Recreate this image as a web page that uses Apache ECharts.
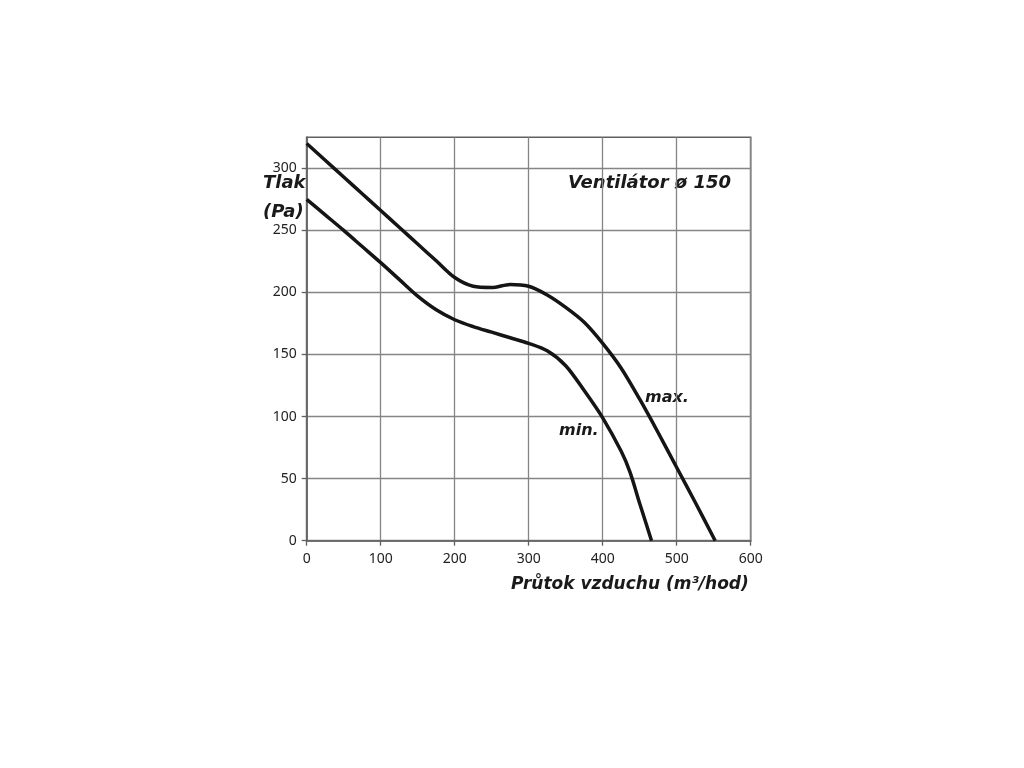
<!DOCTYPE html>
<html>
<head>
<meta charset="utf-8">
<script src="https://cdn.jsdelivr.net/npm/echarts@6/dist/echarts.min.js"></script>
<style>html,body{margin:0;padding:0;background:#fff}#c{width:1024px;height:768px}</style>
</head>
<body>
<div id="c"></div>
<script>
// Flow (m3/h) and pressure (Pa)
const maxFlow     = [0, 25, 50, 75, 100, 125, 150, 175, 200, 225, 250, 275, 300, 325, 350, 375, 400, 425, 450, 475, 500, 525, 552];
const maxPressure = [320, 306.5, 293, 279.5, 266, 252.5, 239, 225.5, 212, 205, 204, 206.5, 205, 198, 188, 176, 159, 139, 114, 87, 59, 31, 0];
const minFlow     = [0, 25, 50, 75, 100, 125, 150, 175, 200, 225, 250, 275, 300, 325, 350, 375, 400, 425, 437, 450, 466];
const minPressure = [275, 262.5, 250, 237, 224, 210.5, 197, 186, 178, 172.5, 168, 163.5, 159, 153, 141, 121, 99, 72, 55, 30, 0];
const xTicks = [0, 100, 200, 300, 400, 500, 600];
const yTicks = [0, 50, 100, 150, 200, 250, 300];
const seriesNames = ['max.', 'min.'];
const chartTitle = 'Ventilátor ø 150';
const xTitle = 'Průtok vzduchu (m³/hod)';
const yTitle = ['Tlak', '(Pa)'];

const pairs = (xs, ys) => xs.map((x, i) => [x, ys[i]]);
const gridColor = '#858585';
const axisColor = '#606060';
const titleFont = { fontFamily: 'DejaVu Sans', fontWeight: 'bold', fontStyle: 'italic', fill: '#1a1a1a' };

const chart = echarts.init(document.getElementById('c'), null, { renderer: 'canvas' });
chart.setOption({
  backgroundColor: '#fff',
  animation: false,
  grid: { left: 306.7, right: 273.3, top: 137.3, bottom: 227.3, show: true, borderColor: axisColor, borderWidth: 1.6 },
  xAxis: {
    type: 'value', min: 0, max: 600, interval: 50,
    axisLine: { show: true, lineStyle: { color: axisColor, width: 1.6 } },
    axisTick: { show: true, length: 5, customValues: xTicks, lineStyle: { color: axisColor, width: 1.3 } },
    axisLabel: { customValues: xTicks, margin: 11, fontSize: 14, color: '#222', fontFamily: 'Noto Sans' },
    splitLine: { show: true, lineStyle: { color: gridColor, width: 1.3 } }
  },
  yAxis: {
    type: 'value', min: 0, max: 325, interval: 25,
    axisLine: { show: true, lineStyle: { color: axisColor, width: 1.6 } },
    axisTick: { show: true, length: 5, customValues: yTicks, lineStyle: { color: axisColor, width: 1.3 } },
    axisLabel: { customValues: yTicks, margin: 10, fontSize: 14, color: '#222', fontFamily: 'Noto Sans' },
    splitLine: { show: true, lineStyle: { color: gridColor, width: 1.3 } }
  },
  series: [
    { name: seriesNames[0], type: 'line', data: pairs(maxFlow, maxPressure), smooth: 0.3, showSymbol: false,
      lineStyle: { color: '#151515', width: 3.5 } },
    { name: seriesNames[1], type: 'line', data: pairs(minFlow, minPressure), smooth: 0.3, showSymbol: false,
      lineStyle: { color: '#151515', width: 3.5 } }
  ],
  graphic: [
    { type: 'text', left: 568, top: 174, style: Object.assign({ text: chartTitle, fontSize: 18 }, titleFont) },
    { type: 'text', left: 263, top: 174, style: Object.assign({ text: yTitle[0], fontSize: 18 }, titleFont) },
    { type: 'text', left: 263, top: 203, style: Object.assign({ text: yTitle[1], fontSize: 18 }, titleFont) },
    { type: 'text', left: 645, top: 390, style: Object.assign({ text: seriesNames[0], fontSize: 16 }, titleFont) },
    { type: 'text', left: 559, top: 423, style: Object.assign({ text: seriesNames[1], fontSize: 16 }, titleFont) },
    { type: 'text', left: 511, top: 576, style: Object.assign({ text: xTitle, fontSize: 17 }, titleFont) }
  ]
});
</script>
</body>
</html>
